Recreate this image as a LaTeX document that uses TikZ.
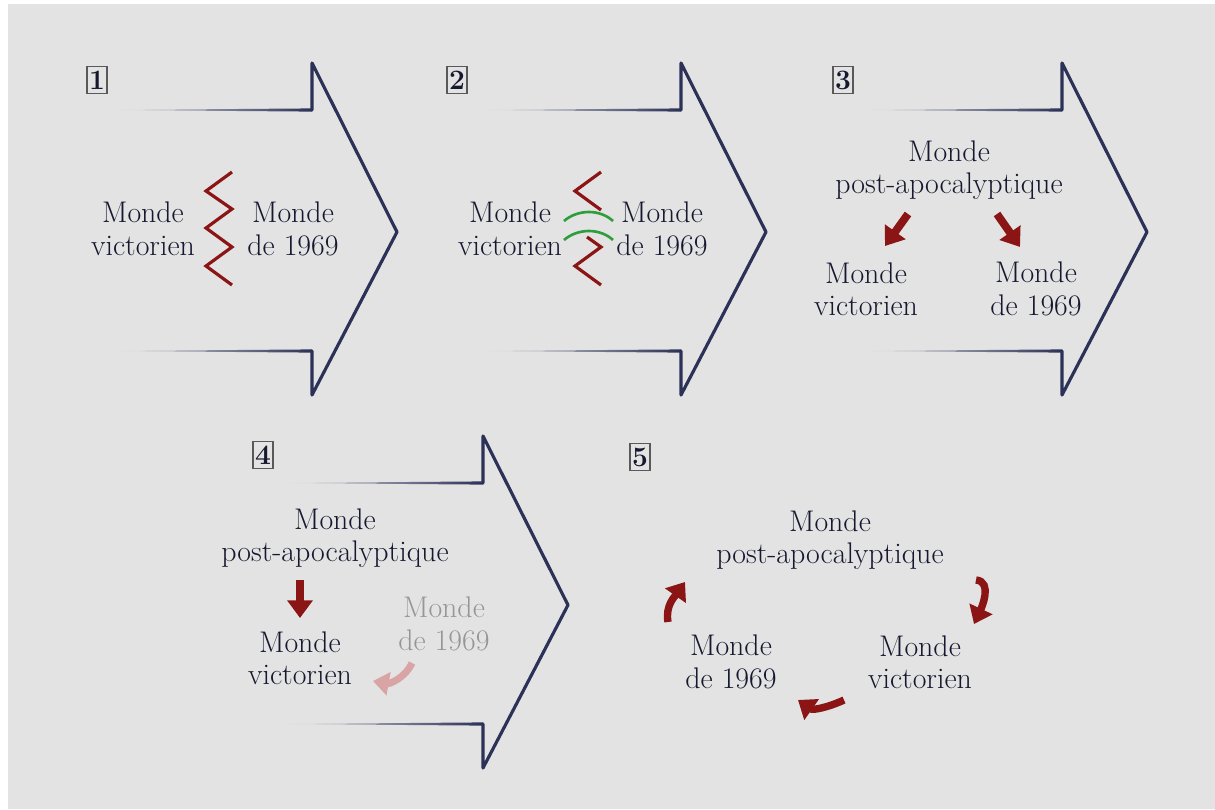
\documentclass[tikz,border=0pt]{standalone}
\usetikzlibrary{arrows.meta,fadings}
\definecolor{bgcol}{HTML}{E3E3E3}
\definecolor{navy}{HTML}{2B3157}
\definecolor{ink}{HTML}{15182F}
\definecolor{darkred}{HTML}{8B1414}
\definecolor{lightred}{HTML}{D8A4A4}
\definecolor{leafgreen}{HTML}{2E9E3C}
\definecolor{greytext}{HTML}{969696}
\tikzfading[name=fadeleft, left color=transparent!100, middle color=transparent!0, right color=transparent!0]
\tikzfading[name=fadeboth, left color=transparent!100, middle color=transparent!0, right color=transparent!100]
\begin{document}
\begin{tikzpicture}[x=0.02cm,y=-0.02cm,
    every node/.style={font=\fontsize{17}{18.5}\selectfont, text=ink, align=center, inner sep=0pt},
    numbox/.style={draw=gray!70!black, line width=0.7pt, minimum width=0.4cm, minimum height=0.54cm, font=\fontsize{16}{16}\selectfont\bfseries},
    chevron/.style={draw=navy, line width=1.8pt, line join=round, line cap=round},
    zigzag/.style={draw=darkred, line width=1.8pt},
    greenarc/.style={draw=leafgreen, line width=1.5pt},
    redarrow/.style={draw=darkred, line width=4.5pt, -{Triangle[width=14pt,length=10pt]}},
    curvearrow/.style={draw=darkred, line width=4.2pt, -{Triangle[width=14pt,length=9.5pt]}},
    fadedarrow/.style={draw=lightred, line width=4pt, -{Triangle[width=13pt,length=9pt]}}]
    \fill[white] (0,0) rectangle (1215,809);
    \fill[bgcol] (8,4) rectangle (1215,809);
    \foreach \dx/\dy in {0/0,369/0,750/0,171/373}{
        \begin{scope}[shift={(\dx,\dy)}]
            \fill[navy, path fading=fadeleft] (113,110) -- (312,108.4) -- (312,111.6) -- cycle;
            \fill[navy, path fading=fadeleft] (113,351) -- (312,349.4) -- (312,352.6) -- cycle;
            \draw[chevron] (312,110) -- (312,63) -- (397,232) -- (312,395) -- (312,351);
        \end{scope}
    }
    \fill[navy, path fading=fadeboth] (680,484) -- (832,482.2) -- (985,484) -- (832,485.8) -- cycle;
    \fill[navy, path fading=fadeboth] (680,734) -- (832,732.2) -- (985,734) -- (832,735.8) -- cycle;
    \node[numbox] (n1) at (97,80) {1};
    \node[numbox] (n2) at (457,80) {2};
    \node[numbox] (n3) at (843,80) {3};
    \node[numbox] (n4) at (263,455) {4};
    \node[numbox] (n5) at (640,457) {5};
    \node (p1vic) at (143,229) {Monde\\victorien};
    \node (p1dec) at (293,229) {Monde\\de 1969};
    \draw[zigzag] (232,172) -- (206,191) -- (232,209) -- (206,228) -- (232,247) -- (206,266) -- (232,285);
    \node (p2vic) at (510,229) {Monde\\victorien};
    \node (p2dec) at (662,229) {Monde\\de 1969};
    \draw[zigzag] (601,172) -- (575,191) -- (601,210);
    \draw[zigzag] (587,237) -- (601,247) -- (575,266) -- (601,285);
    \draw[greenarc] (564,221) .. controls (578,209) and (600,209) .. (613,221);
    \draw[greenarc] (564,240) .. controls (578,228) and (600,228) .. (613,240);
    \node (p3post) at (949,170) {Monde\\post-apocalyptique};
    \node (p3vic) at (866,289) {Monde\\victorien};
    \node (p3dec) at (1036,289) {Monde\\de 1969};
    \draw[redarrow] ([shift={(-41,44)}]p3post.center) -- ([shift={(19,-43)}]p3vic.center);
    \draw[redarrow] ([shift={(48,44)}]p3post.center) -- ([shift={(-16,-42)}]p3dec.center);
    \node (p4post) at (335,538) {Monde\\post-apocalyptique};
    \node (p4vic) at (300,658) {Monde\\victorien};
    \node[text=greytext] (p4dec) at (444,624) {Monde\\de 1969};
    \draw[redarrow] ([shift={(-35,42)}]p4post.center) -- ([shift={(0,-40)}]p4vic.center);
    \draw[fadedarrow] ([shift={(-32,39)}]p4dec.center) to[out=-115,in=-10] ([shift={(73,23)}]p4vic.center);
    \node (p5post) at (830,540) {Monde\\post-apocalyptique};
    \node (p5vic) at (920,662) {Monde\\victorien};
    \node (p5dec) at (731,662) {Monde\\de 1969};
    \draw[curvearrow] ([shift={(146,40)}]p5post.center) to[out=-5,in=65] ([shift={(54,-38)}]p5vic.center);
    \draw[curvearrow] ([shift={(-76,38)}]p5vic.center) to[out=-155,in=-35] ([shift={(67,38)}]p5dec.center);
    \draw[curvearrow] ([shift={(-63,-40)}]p5dec.center) to[out=100,in=-125] ([shift={(-145,42)}]p5post.center);
\end{tikzpicture}
\end{document}
